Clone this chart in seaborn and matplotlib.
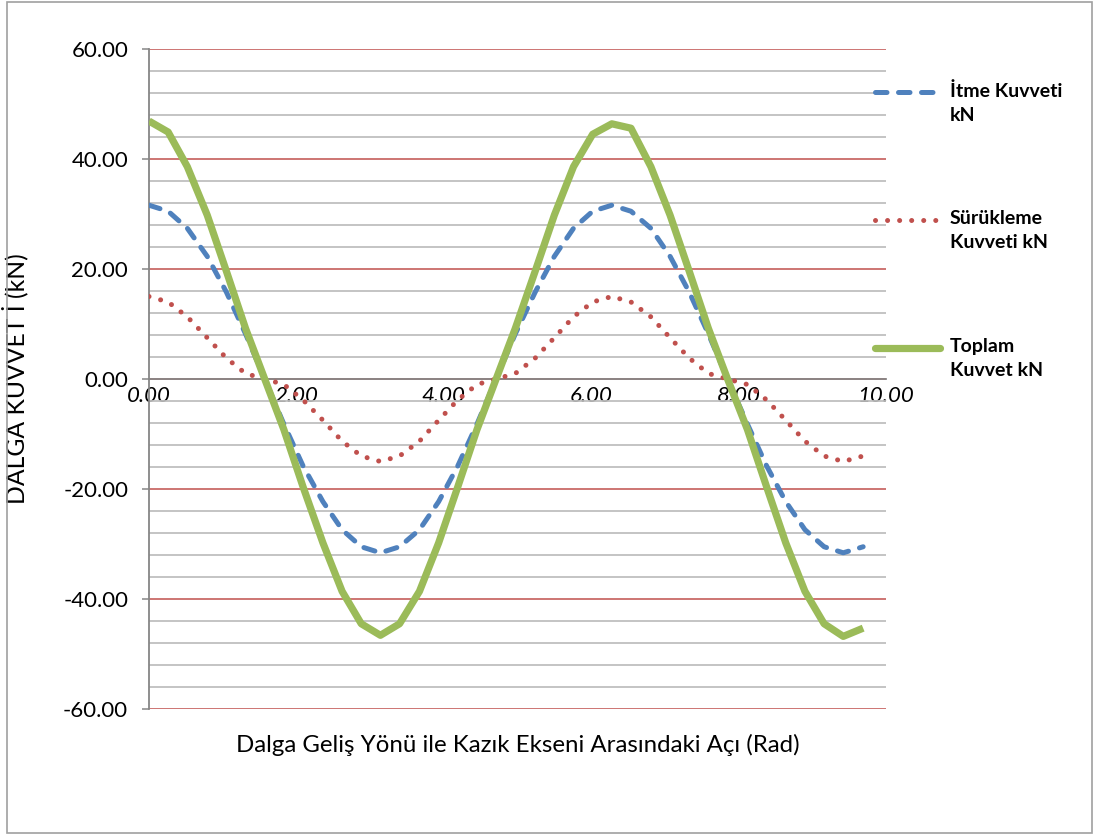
import matplotlib
matplotlib.use("Agg")
import matplotlib.pyplot as plt
import seaborn as sns
from matplotlib.lines import Line2D
from matplotlib.patches import Rectangle
from matplotlib.ticker import MultipleLocator, FormatStrFormatter

sns.set_theme(style="white")
plt.rcParams["font.family"] = ["Lato", "DejaVu Sans"]
plt.rcParams["axes.unicode_minus"] = False

# -----------------------------
# Veriler
# -----------------------------
aci_rad = [0.00, 0.26, 0.52, 0.79, 1.05, 1.31, 1.57, 1.83, 2.09, 2.36,
           2.62, 2.88, 3.14, 3.40, 3.67, 3.93, 4.19, 4.45, 4.71, 4.97,
           5.24, 5.50, 5.76, 6.02, 6.28, 6.54, 6.81, 7.07, 7.33, 7.59,
           7.85, 8.12, 8.38, 8.64, 8.90, 9.16, 9.42, 9.69]

itme = [31.6, 30.5, 27.4, 22.3, 15.8, 8.2, 0.0, -8.2, -15.8, -22.3,
        -27.4, -30.5, -31.6, -30.5, -27.4, -22.3, -15.8, -8.2, 0.0, 8.2,
        15.8, 22.3, 27.4, 30.5, 31.6, 30.5, 27.4, 22.3, 15.8, 8.2,
        0.0, -8.2, -15.8, -22.3, -27.4, -30.5, -31.6, -30.5]

surukleme = [15.0, 14.0, 11.3, 7.5, 3.8, 1.0, 0.0, -1.0, -3.8, -7.5,
             -11.3, -14.0, -15.0, -14.0, -11.3, -7.5, -3.8, -1.0, 0.0, 1.0,
             3.8, 7.5, 11.3, 14.0, 15.0, 14.0, 11.3, 7.5, 3.8, 1.0,
             0.0, -1.0, -3.8, -7.5, -11.3, -14.0, -15.0, -14.0]

toplam = [46.9, 44.9, 38.6, 29.8, 19.6, 9.2, 0.0, -9.2, -19.6, -29.8,
          -38.6, -44.5, -46.6, -44.5, -38.6, -29.8, -19.6, -9.2, 0.0, 9.2,
          19.6, 29.8, 38.6, 44.5, 46.4, 45.6, 38.6, 29.8, 19.6, 9.2,
          0.0, -9.2, -19.6, -29.8, -38.6, -44.5, -46.8, -45.3]

etiketler = ["İtme Kuvveti\nkN", "Sürükleme\nKuvveti kN", "Toplam\nKuvvet kN"]

MAVI = "#4F81BD"
KIRMIZI = "#C0504D"
YESIL = "#9BBB59"
GRI = "#868686"

W, H = 1094, 834
fig = plt.figure(figsize=(W / 100, H / 100), dpi=100)
ax = fig.add_axes([149 / W, 1 - 709 / H, (886 - 149) / W, (709 - 49) / H])

# -----------------------------
# Seriler
# -----------------------------
sns.lineplot(x=aci_rad, y=itme, ax=ax, color=MAVI, lw=3.6,
             linestyle=(0, (2.3, 2.3)), dash_capstyle="round",
             estimator=None, zorder=3)
sns.lineplot(x=aci_rad, y=surukleme, ax=ax, color=KIRMIZI, lw=3.6,
             linestyle=(0, (0.01, 2.4)), dash_capstyle="round",
             estimator=None, zorder=4)
sns.lineplot(x=aci_rad, y=toplam, ax=ax, color=YESIL, lw=5.2,
             solid_joinstyle="round", solid_capstyle="butt",
             estimator=None, zorder=5)

# -----------------------------
# Eksenler ve ızgara
# -----------------------------
ax.set_xlim(0, 10)
ax.set_ylim(-60, 60)
ax.xaxis.set_major_locator(MultipleLocator(2))
ax.xaxis.set_major_formatter(FormatStrFormatter("%.2f"))
ax.yaxis.set_major_locator(MultipleLocator(20))
ax.yaxis.set_minor_locator(MultipleLocator(4))
ax.yaxis.set_major_formatter(FormatStrFormatter("%.2f"))

ax.grid(False)
ax.grid(True, which="minor", axis="y", color="#BFBFBF", lw=1.3, zorder=0)
ax.grid(True, which="major", axis="y", color=KIRMIZI, lw=1.1, zorder=1)

for s in ["top", "right"]:
    ax.spines[s].set_visible(False)
ax.spines["bottom"].set_position(("data", 0))
for s in ["left", "bottom"]:
    ax.spines[s].set_color(GRI)
    ax.spines[s].set_linewidth(1.3)
    ax.spines[s].set_zorder(2)

ax.tick_params(axis="x", which="major", direction="out", length=5, width=1.1,
               color=GRI, pad=0, labelsize=16, labelcolor="black")
ax.tick_params(axis="y", which="major", direction="out", length=5, width=1.1,
               color=GRI, pad=10, labelsize=16, labelcolor="black", left=True)
ax.tick_params(axis="y", which="minor", left=False)
for lbl in ax.get_xticklabels():
    lbl.set_fontstyle("italic")

ax.set_xlabel("Dalga Geliş Yönü ile Kazık Ekseni Arasındaki Açı (Rad)",
              fontsize=17.3, color="black", va="center")
ax.xaxis.set_label_coords(0.5, (709 - 745) / 660)
ax.set_ylabel("DALGA KUVVET İ (kN)", fontsize=17.8, color="black", va="center")
ax.yaxis.set_label_coords((15 - 149) / 737, 0.5)

# -----------------------------
# Lejant (sağ tarafta)
# -----------------------------
lejant = [
    (92, MAVI, dict(lw=3.6, linestyle=(0, (2.3, 2.3)), dash_capstyle="round")),
    (220, KIRMIZI, dict(lw=3.6, linestyle=(0, (0.01, 2.4)), dash_capstyle="round")),
    (348, YESIL, dict(lw=5.2, solid_capstyle="round")),
]
for (py, renk, stil), etiket in zip(lejant, etiketler):
    fig.add_artist(Line2D([875 / W, 940 / W], [1 - py / H, 1 - py / H],
                          transform=fig.transFigure, color=renk, **stil))
    fig.text(950 / W, 1 - (py - 10) / H, etiket, ha="left", va="top",
             fontsize=14, fontweight="bold", color="black", linespacing=1.5)

# Dış çerçeve
fig.add_artist(Rectangle((7 / W, 1 / H), (1092 - 7) / W, (832 - 1) / H,
                         transform=fig.transFigure, fill=False,
                         edgecolor="#A0A0A0", lw=1.2))

fig.savefig("out.png", dpi=100)
